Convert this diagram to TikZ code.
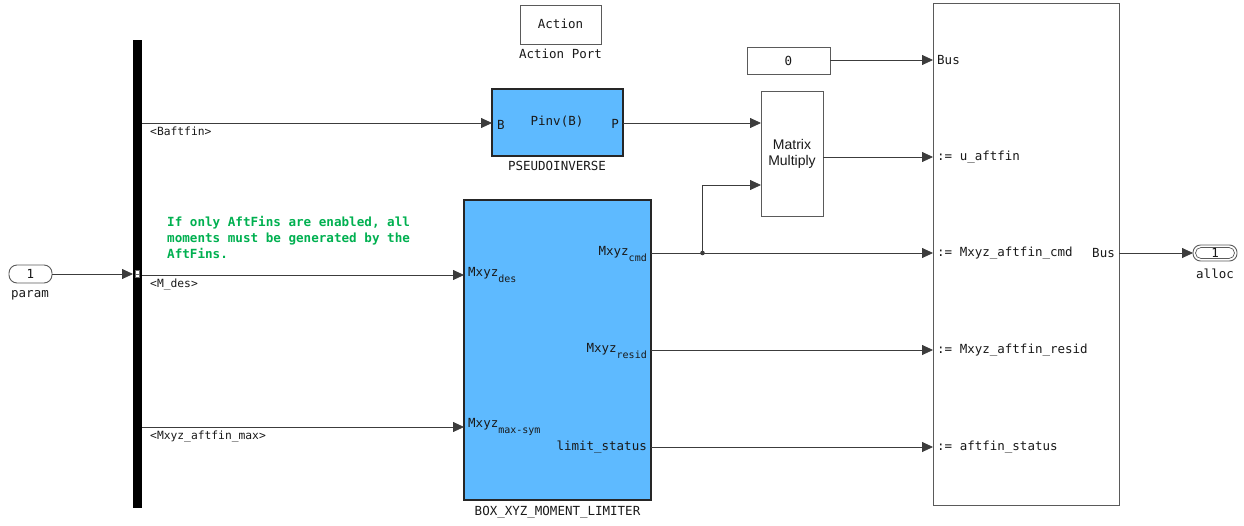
\documentclass[tikz,border=0pt]{standalone}
\usepackage{fontspec}
\setmainfont{Liberation Sans}
\newfontfamily\mono{DejaVu Sans Mono}
\usetikzlibrary{arrows.meta}
\definecolor{blkblue}{RGB}{94,186,255}
\definecolor{cmtgreen}{RGB}{0,176,80}
\definecolor{wire}{RGB}{60,60,60}
\definecolor{bord}{RGB}{90,90,90}
\begin{document}
\begin{tikzpicture}[x=1pt,y=-1pt,
  lbl/.style={font=\mono\fontsize{12.5}{14}\selectfont, inner sep=0pt, text=black!90},
  slbl/.style={font=\mono\fontsize{11.3}{12}\selectfont, inner sep=0pt, text=black!90},
  blue blk/.style={draw=black!85, line width=1.6pt, fill=blkblue},
  plain blk/.style={draw=bord, line width=0.9pt, fill=white},
  wr/.style={draw=wire, line width=0.8pt},
  arr/.style={wr, -{Triangle[length=11pt,width=10pt]}}
]
\useasboundingbox (0,0) rectangle (1244,525);
% subscript helper
\newcommand{\sbs}[1]{\raisebox{-6.5pt}{\fontsize{10}{11}\selectfont #1}}

% bus selector bar
\fill[black] (133,40) rectangle (142,508);
\coordinate (barIn) at (133,274);
\coordinate (bo1) at (142,123);
\coordinate (bo2) at (142,275);
\coordinate (bo3) at (142,427);

% param inport
\draw[plain blk, rounded corners=8pt] (9,265) rectangle (52,283);
\node[lbl] (param) at (30.5,274) {1};
\node[lbl] (paramlbl) at (30,295) {param};
\coordinate (paramOut) at (52,274);
\draw[arr] (paramOut) -- (barIn);
\fill[white] (135.5,270.5) rectangle (139.5,277.5);
\draw[black!60, line width=0.4pt] (135.5,270.5) rectangle (139.5,277.5) (135.5,274) -- (139.5,274);

% Action port
\draw[plain blk] (520,5) rectangle (601,44);
\node[lbl] (act) at (560.5,24) {Action};
\node[lbl] (actlbl) at (560.5,54) {Action Port};

% PSEUDOINVERSE
\draw[blue blk] (492,89) rectangle (623,156);
\node[lbl] (pinv) at (557,122) {Pinv(B)};
\node[lbl, anchor=west] (pinB) at (497,125) {B};
\node[lbl, anchor=east] (pinP) at (619,124) {P};
\node[lbl] (pinvlbl) at (557,166) {PSEUDOINVERSE};
\coordinate (pinvIn) at (492,123);
\coordinate (pinvOut) at (623,123);

% BOX limiter
\draw[blue blk] (464,200) rectangle (651,500);
\node[lbl] (boxlbl) at (557.5,512) {BOX\_XYZ\_MOMENT\_LIMITER};
\node[lbl, anchor=base west] (pdes) at (468,276) {Mxyz\sbs{des}};
\node[lbl, anchor=base west] (pmax) at (468,427) {Mxyz\sbs{max-sym}};
\node[lbl, anchor=base east] (pcmd) at (647,255) {Mxyz\sbs{cmd}};
\node[lbl, anchor=base east] (pres) at (647,352) {Mxyz\sbs{resid}};
\node[lbl, anchor=base east] (plim) at (647,450) {limit\_status};
\coordinate (boxIn1) at (464,275);
\coordinate (boxIn2) at (464,427);
\coordinate (boxO1) at (651,253);
\coordinate (boxO2) at (651,350);
\coordinate (boxO3) at (651,447);

% comment
\node[font=\mono\bfseries\fontsize{12.6}{16}\selectfont, text=cmtgreen, anchor=north west, align=left, inner sep=0pt] (cmt) at (167,216)
 {If only AftFins are enabled, all\\moments must be generated by the\\AftFins.};

% selector outputs
\draw[arr] (bo1) -- (pinvIn);
\draw[arr] (bo2) -- (boxIn1);
\draw[arr] (bo3) -- (boxIn2);
\node[slbl, anchor=west] (l1) at (150,131) {<Baftfin>};
\node[slbl, anchor=west] (l2) at (150,285) {<M\_des>};
\node[slbl, anchor=west] (l3) at (150,437) {<Mxyz\_aftfin\_max>};

% constant
\draw[plain blk] (747,47) rectangle (830,74);
\node[lbl] (zero) at (788.5,60.5) {0};
\coordinate (zeroOut) at (830,60);

% matrix multiply
\draw[plain blk] (761,91) rectangle (823,216);
\node[font=\fontsize{14}{16.5}\selectfont, align=center, text=black!90] (mm) at (792,154) {Matrix\\Multiply};
\coordinate (mmIn1) at (761,123);
\coordinate (mmIn2) at (761,185);
\coordinate (mmOut) at (823,157);

% bus creator
\draw[plain blk] (933,3) rectangle (1119,505);
\coordinate (bc1) at (933,60);
\coordinate (bc2) at (933,157);
\coordinate (bc3) at (933,253);
\coordinate (bc4) at (933,350);
\coordinate (bc5) at (933,447);
\coordinate (bcOut) at (1119,253);
\node[lbl, anchor=west] (t1) at (937,60) {Bus};
\node[lbl, anchor=west] (t2) at (937,157) {:= u\_aftfin};
\node[lbl, anchor=west] (t3) at (937,253) {:= Mxyz\_aftfin\_cmd};
\node[lbl, anchor=west] (t4) at (937,350) {:= Mxyz\_aftfin\_resid};
\node[lbl, anchor=west] (t5) at (937,447) {:= aftfin\_status};
\node[lbl, anchor=east] (t6) at (1115,253) {Bus};

% connections
\draw[arr] (pinvOut) -- (mmIn1);
\draw[arr] (zeroOut) -- (bc1);
\draw[arr] (mmOut) -- (bc2);
\draw[arr] (boxO1) -- (bc3);
\coordinate (jn) at (702.5,253);
\fill[wire] (jn) circle (2.3pt);
\draw[arr] (jn) |- (mmIn2);
\draw[arr] (boxO2) -- (bc4);
\draw[arr] (boxO3) -- (bc5);

% outport alloc
\draw[plain blk, rounded corners=7.5pt] (1193,245) rectangle (1237,261);
\draw[draw=bord, line width=0.7pt, rounded corners=5.5pt] (1195.5,247.5) rectangle (1234.5,258.5);
\node[lbl] (o1) at (1215,253) {1};
\node[lbl] (alloc) at (1215,274) {alloc};
\coordinate (outIn) at (1193,253);
\draw[arr] (bcOut) -- (outIn);
\end{tikzpicture}
\end{document}
